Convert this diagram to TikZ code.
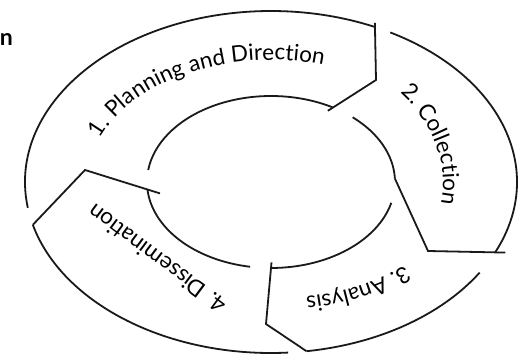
\documentclass[tikz,border=0pt]{standalone}
\usepackage{fontspec}
\setmainfont{Lato}
\usetikzlibrary{calc, decorations.text}

\newcommand{\cyclefont}{\fontsize{22.5}{27}\selectfont}

\begin{document}
\begin{tikzpicture}[x=1pt, y=1pt,
    ring/.style={line width=1.8pt, black!90, line join=miter}]
        \useasboundingbox (-271,-173) rectangle (253,182);

        % Chevron corners and inner ends
        \coordinate (tipA) at (105,102);
        \coordinate (tipB) at (157,-69);
        \coordinate (tipC) at (-5,-142);
        \coordinate (tipD) at (-186,12);
        \coordinate (inA) at (60:124 and 86);
        \coordinate (inB) at (2.3:124 and 86);
        \coordinate (inC) at (-90:124 and 86);
        \coordinate (inD) at (185:124 and 86);

        % 1. Planning and Direction
        \draw[ring] (188.7:246 and 171) arc[start angle=188.7, end angle=65, x radius=246, y radius=171] coordinate (outA);
        \draw[ring] (inA) arc[start angle=60, end angle=172, x radius=124, y radius=86];
        \draw[ring] ($(tipA)!1.08!(outA)$) -- (tipA) -- ($(tipA)!1.12!(inA)$);

        % 2. Collection
        \draw[ring] (61:246 and 171) arc[start angle=61, end angle=-24.3, x radius=246, y radius=171] coordinate (outB);
        \draw[ring] (inB) arc[start angle=2.3, end angle=48.8, x radius=124, y radius=86];
        \draw[ring] ($(tipB)!1.15!(outB)$) -- (tipB) -- (inB);

        % 3. Analysis
        \draw[ring] (-32:246 and 171) arc[start angle=-32, end angle=-81.7, x radius=246, y radius=171] coordinate (outC);
        \draw[ring] (inC) arc[start angle=-90, end angle=-14, x radius=124, y radius=86];
        \draw[ring] (outC) -- (tipC) -- ($(tipC)!1.1!(inC)$);

        % 4. Dissemination
        \draw[ring] (-86:246 and 171) arc[start angle=-86, end angle=-165.5, x radius=246, y radius=171] coordinate (outD);
        \draw[ring] (inD) arc[start angle=185, end angle=260.3, x radius=124, y radius=86];
        \draw[ring] (outD) -- (tipD) -- ($(tipD)!1.2!(inD)$);

        % Labels along the ring
        \path[decorate, decoration={text along path, text={|\cyclefont|1. Planning and Direction}}]
            (159:183 and 122) arc[start angle=159, end angle=40, x radius=183, y radius=122];
        \path[decorate, decoration={text along path, text={|\cyclefont|2. Collection}}]
            (41.4:172 and 135) arc[start angle=41.4, end angle=-40, x radius=172, y radius=135];
        \path[decorate, decoration={text along path, text={|\cyclefont|3. Analysis}}]
            (-45.2:190 and 117) arc[start angle=-45.2, end angle=-110, x radius=190, y radius=117];
        \node[anchor=base west, inner sep=0pt, rotate=143.4, font=\cyclefont] (dissem) at (-42,-120) {4. Dissemination};

        % Cut-off word at the edge
        \node[anchor=base east, inner sep=0pt, font=\fontsize{23}{27}\selectfont\bfseries] (cutword) at (-258,136) {n};
      \end{tikzpicture}
\end{document}
